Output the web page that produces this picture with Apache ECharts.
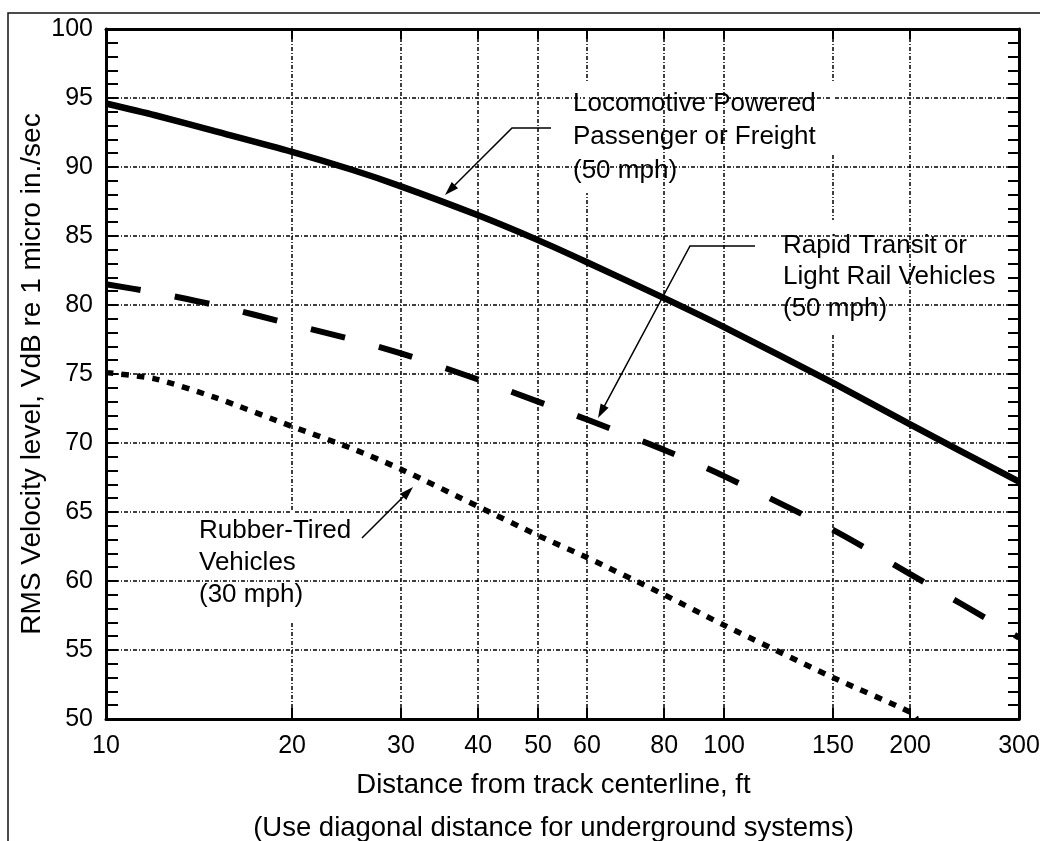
<!DOCTYPE html>
<html><head><meta charset="utf-8">
<script src="https://cdn.jsdelivr.net/npm/echarts@6/dist/echarts.min.js"></script>
<style>html,body{margin:0;padding:0;background:#fff}#c{width:1040px;height:841px}</style>
</head><body><div id="c"></div>
<script>
// ---- data ----
const distances    = [10, 12, 15, 20, 25, 30, 40, 50, 60, 80, 100, 150, 200, 300];
const locomotive   = [94.6, 93.75, 92.6, 91.1, 89.8, 88.6, 86.5, 84.7, 83.1, 80.5, 78.4, 74.35, 71.35, 67.2];
const rapidTransit = [81.5, 80.9, 80.0, 78.6, 77.5, 76.5, 74.6, 73.0, 71.7, 69.5, 67.6, 63.7, 60.5, 55.9];
const rubberDist   = [10, 12, 15, 20, 25, 30, 40, 50, 60, 80, 100, 150, 200, 205];
const rubberTired  = [75.1, 74.65, 73.3, 71.2, 69.6, 68.1, 65.4, 63.3, 61.7, 59.0, 56.8, 53.0, 50.5, 50.0];
const xTickValues  = [10, 20, 30, 40, 50, 60, 80, 100, 150, 200, 300];
const yMin = 50, yMax = 100, yStep = 5;
const xName = 'Distance from track centerline, ft\n(Use diagonal distance for underground systems)';
const yName = 'RMS Velocity level, VdB re 1 micro in./sec';
const notes = [
  {text: 'Locomotive Powered\nPassenger or Freight\n(50 mph)', x: 573, y: 87, lh: 33.5},
  {text: 'Rapid Transit or\nLight Rail Vehicles\n(50 mph)', x: 783, y: 230, lh: 31.5},
  {text: 'Rubber-Tired\nVehicles\n(30 mph)', x: 199, y: 515, lh: 32}
];
const arrows = [
  [[551,128],[512,128],[445,195]],
  [[755,246],[690,246],[598,418]],
  [[362,538],[413,487]]
];
// grid line gaps seen in the scan
const gaps = [[585,83,4,110],[831,83,4,72],[831,220,4,113],[290.5,510,4,112]];

const FONT = 'Liberation Sans, Arial, sans-serif';
const zip = (xs, ys) => xs.map((x, i) => [x, ys[i]]);

function arrowEls(pts){
  const n = pts.length;
  const [x1,y1] = pts[n-2], [x2,y2] = pts[n-1];
  const a = Math.atan2(y2-y1, x2-x1), L = 14, W = 4.5;
  const bx = x2 - L*Math.cos(a), by = y2 - L*Math.sin(a);
  const px = -Math.sin(a)*W, py = Math.cos(a)*W;
  const linePts = pts.slice(0, n-1).concat([[bx+ (x2-bx)*0.3, by + (y2-by)*0.3]]);
  return [
    {type:'polyline', z:10, shape:{points: linePts}, style:{stroke:'#000', lineWidth:1.5, fill:null}},
    {type:'polygon', z:10, shape:{points:[[x2,y2],[bx+px,by+py],[bx-px,by-py]]}, style:{fill:'#000'}}
  ];
}

const gridDash = [4, 2, 1, 2];
const chart = echarts.init(document.getElementById('c'), null, {renderer:'canvas'});
const elements = [];
elements.push({type:'rect', z:0, silent:true, shape:{x:8, y:13, width:1060, height:900}, style:{fill:null, stroke:'#111', lineWidth:1.5}});
gaps.forEach(g => elements.push({type:'rect', z:1, shape:{x:g[0], y:g[1], width:g[2], height:g[3]}, style:{fill:'#fff'}}));
notes.forEach(n => elements.push({type:'text', z:10, x:n.x, y:n.y, style:{text:n.text, fill:'#000', font:'26px ' + FONT, lineHeight:n.lh, verticalAlign:'top', align:'left'}}));
arrows.forEach(p => arrowEls(p).forEach(e => elements.push(e)));

chart.setOption({
  animation: false,
  backgroundColor: '#fff',
  grid: {left:106, right:21, top:29, bottom:122, containLabel:false, outerBoundsMode:'none'},
  xAxis: [{
    type:'log', logBase:10, min:10, max:300, position:'bottom',
    axisLine:{show:true, lineStyle:{color:'#000', width:3}},
    axisTick:{show:true, inside:true, length:11, customValues:xTickValues, lineStyle:{color:'#000', width:2}},
    axisLabel:{show:true, customValues:xTickValues, color:'#000', fontSize:25, fontFamily:FONT, margin:15},
    splitLine:{show:true, lineStyle:{color:'#000', width:1.5, type:gridDash}},
    minorTick:{show:false}, minorSplitLine:{show:false},
    name:xName, nameLocation:'middle', nameGap:45, nameMoveOverlap:false,
    nameTextStyle:{color:'#000', fontSize:27.5, fontFamily:FONT, lineHeight:43, padding:[0,18,0,0]}
  },{
    type:'log', logBase:10, min:10, max:300, position:'top',
    axisLine:{show:true, lineStyle:{color:'#000', width:3}},
    axisTick:{show:true, inside:true, length:10, customValues:xTickValues, lineStyle:{color:'#000', width:2}},
    axisLabel:{show:false}, splitLine:{show:false}
  }],
  yAxis: [{
    type:'value', min:yMin, max:yMax, interval:yStep, position:'left',
    axisLine:{show:true, lineStyle:{color:'#000', width:3}},
    axisTick:{show:true, inside:true, length:12, lineStyle:{color:'#000', width:2}},
    minorTick:{show:true, splitNumber:5, length:12, lineStyle:{color:'#000', width:2}},
    axisLabel:{color:'#000', fontSize:25, fontFamily:FONT, margin:13},
    splitLine:{show:true, lineStyle:{color:'#000', width:1.5, type:gridDash}},
    name:yName, nameLocation:'middle', nameGap:60, nameMoveOverlap:false,
    nameTextStyle:{color:'#000', fontSize:28, fontFamily:FONT}
  },{
    type:'value', min:yMin, max:yMax, interval:yStep, position:'right',
    axisLine:{show:true, lineStyle:{color:'#000', width:3}},
    axisTick:{show:true, inside:true, length:11, lineStyle:{color:'#000', width:2}},
    minorTick:{show:true, splitNumber:5, length:11, lineStyle:{color:'#000', width:2}},
    axisLabel:{show:false}, splitLine:{show:false}
  }],
  series: [
    {name:'Locomotive Powered Passenger or Freight (50 mph)', type:'line', smooth:0.25, symbol:'none', z:3,
     data: zip(distances, locomotive), lineStyle:{color:'#000', width:6.5}},
    {name:'Rapid Transit or Light Rail Vehicles (50 mph)', type:'line', smooth:0.25, symbol:'none', z:3,
     data: zip(distances, rapidTransit), lineStyle:{color:'#000', width:6, type:[35,35]}},
    {name:'Rubber-Tired Vehicles (30 mph)', type:'line', smooth:0.25, symbol:'none', z:3,
     data: zip(rubberDist, rubberTired), lineStyle:{color:'#000', width:5.5, type:[7.5,8]}}
  ],
  graphic: {elements: elements}
});
</script></body></html>
